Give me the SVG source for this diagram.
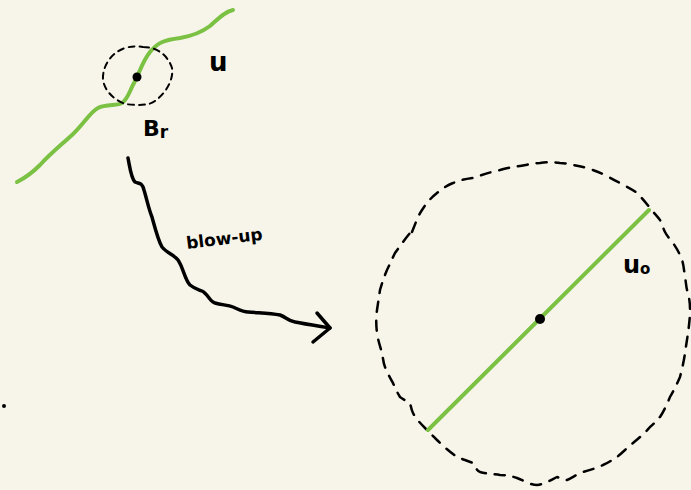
<svg xmlns="http://www.w3.org/2000/svg" width="691" height="490" viewBox="0 0 691 490">
<style>
.bg{fill:#f7f5ea}
.green{fill:none;stroke:#7bc143;stroke-width:4;stroke-linecap:round;stroke-linejoin:round}
.ink{fill:none;stroke:#000;stroke-linecap:round;stroke-linejoin:round}
.dash-s{stroke-width:2;stroke-dasharray:6 5}
.dash-l{stroke-width:2.5;stroke-dasharray:10 9}
.lbl{font-family:"DejaVu Sans",sans-serif;font-weight:bold;fill:#000}
</style>
<rect class="bg" x="0" y="0" width="691" height="490"/>
<g id="small-curve">
<path class="green" d="M17,182 C25,178 30,175 40,165 C52,152 60,146 72,135 C84,124 90,112 98,108 C106,104 118,106 122,103 C128,99 130,90 134,83 C140,72 142,62 150,52 C158,42 165,40 180,38 C192,36 202,32 210,26 C218,19 224,12 233,10"/>
</g>
<g id="small-ball">
<path class="ink dash-s" d="M143,47 C158,47 168,56 172,68 C174,80 165,94 155,101 C150,105 140,106 125,104 C115,100 105,92 103,80 C102,66 112,52 125,48 C132,46 138,46 143,47 Z"/>
<circle cx="137" cy="77" r="4.5" fill="#000"/>
</g>
<g id="label-u">
<text class="lbl" x="209" y="71" font-size="26">u</text>
</g>
<g id="label-Br">
<text class="lbl" x="143" y="136" font-size="22">B<tspan font-size="17" dy="2">r</tspan></text>
</g>
<g id="connectors">
<path class="ink" stroke-width="3.5" d="M128,158 C130,168 131,178 135,182 C139,184 142,182 144,190 C147,200 149,210 152,217 C155,228 158,240 162,247 C167,253 174,255 178,260 C183,267 185,280 190,285 C195,289 197,289 202,291 C208,294 210,302 215,303 C222,305 228,305 233,307 C238,309 242,312 248,312 C260,313 270,313 280,315 C286,317 288,321 295,322 C305,324 318,326 330,328"/>
<path class="ink" stroke-width="3.5" d="M317,313 L330,328 L313,342"/>
</g>
<g id="label-blowup">
<text class="lbl" x="187" y="249" font-size="17" transform="rotate(-7 187 249)">blow-up</text>
</g>
<g id="big-ball">
<path class="ink dash-l" d="M412,232 C416,222 418,216 422,210 C427,202 432,197 437,193 C443,188 448,185 453,183 C460,180 466,179 473,178 C482,175 490,172 500,170 C507,168 513,167 520,166 C527,165 533,163 540,163 C547,162 553,162 560,163 C565,163 569,164 573,165 C579,166 584,167 590,169 C596,171 601,173 607,176 C612,179 616,181 620,183 C627,187 632,189 637,193 C642,198 646,203 650,208 C654,213 657,216 660,220 C662,224 663,228 665,232 C667,236 670,239 673,243 C677,249 680,254 682,260 C684,266 684,271 685,277 C686,282 686,286 687,290 C689,296 690,302 690,310 C690,318 689,326 688,333 C687,340 686,346 685,353 C684,361 682,369 680,377 C677,384 674,390 670,397 C667,404 664,411 660,417 C656,421 654,424 650,427 C645,433 639,438 633,443 C628,447 622,453 617,457 C612,460 608,463 603,465 C597,468 590,470 583,472 C577,474 572,478 567,480 C563,481 560,478 557,477 C551,480 545,484 537,485 C530,485 523,480 517,478 C511,476 506,475 500,475 C493,474 487,474 480,472 C476,470 475,466 473,463 C468,461 462,459 457,457 C450,452 443,446 437,440 C433,436 430,433 427,430 C421,424 416,419 413,413 C411,409 411,406 410,403 C406,401 403,399 400,397 C397,392 395,388 393,383 C390,378 387,372 385,367 C383,362 383,357 382,353 C380,346 378,340 377,333 C376,325 376,318 377,310 C378,303 379,297 380,290 C382,283 384,277 387,270 C390,264 392,259 395,253 C400,246 405,239 410,233"/>
</g>
<g id="diameter">
<path class="green" d="M428,430 L649,210"/>
<circle cx="540" cy="319" r="5" fill="#000"/>
</g>
<g id="label-u0">
<text class="lbl" x="623" y="273" font-size="24">u<tspan font-size="15" dy="1">o</tspan></text>
</g>
<circle id="stray-dot" cx="4" cy="406" r="2" fill="#000"/>
</svg>
